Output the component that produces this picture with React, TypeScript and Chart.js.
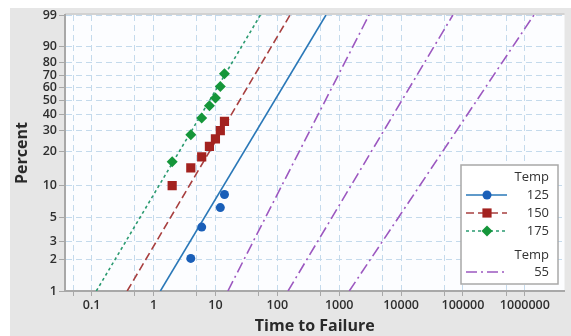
import React, { useEffect, useRef } from 'react';
import { Chart, registerables } from 'chart.js';
Chart.register(...registerables);

// Percent tick labels (Weibull probability scale)
const percentTicks = [1, 2, 3, 5, 10, 20, 30, 40, 50, 60, 70, 80, 90, 99];
// X grid lines and labels (log scale)
const xGridValues = [0.05, 0.1, 0.5, 1, 5, 10, 50, 100, 500, 1000, 5000, 10000, 50000, 100000, 500000, 1000000];
const xTickLabels = ['', '0.1', '', '1', '', '10', '', '100', '', '1000', '', '10000', '', '100000', '', '1000000'];

// Observed failures
const times175 = [2, 4, 6, 8, 10, 12, 14];
const pct175 = [16.2, 27.6, 37.4, 45.9, 51.7, 61.0, 71.3];
const times150 = [2, 4, 6, 8, 10, 12, 14];
const pct150 = [9.9, 14.3, 17.9, 22.1, 25.5, 29.8, 35.2];
const times125 = [4, 6, 12, 14];
const pct125 = [2.05, 4.07, 6.2, 8.2];

// Fitted lines (time at 1% and 99%)
const fitPct = [1, 99];
const fit125 = [1.29, 611];
const fit150 = [0.375, 160.7];
const fit175 = [0.119, 53.3];
const fit55Lower = [15.9, 3034];
const fit55 = [149, 68700];
const fit55Upper = [1455, 1400000];

const wb = (p: number) => Math.log(-Math.log(1 - p / 100));
const pts = (t: number[], p: number[]) => t.map((x, i) => ({ x, y: wb(p[i]) }));

const BLUE_LINE = '#2a78b8';
const BLUE_PT = '#1a5fb8';
const RED_LINE = '#a84040';
const RED_PT = '#a3221f';
const GREEN_LINE = '#2a9a70';
const GREEN_PT = '#15963a';
const PURPLE = '#9c58c0';
const FONT = '"Open Sans", "DejaVu Sans", sans-serif';
const DASH55 = [11, 4, 2, 4];

const bgPlugin = {
  id: 'bgPlugin',
  beforeDraw(chart: any) {
    const { ctx, chartArea: a, width, height } = chart;
    ctx.save();
    ctx.fillStyle = '#ffffff';
    ctx.fillRect(0, 0, width, height);
    ctx.fillStyle = '#e6e6e6';
    ctx.fillRect(10, 8, width - 10, height - 8);
    ctx.fillStyle = '#fcfdff';
    ctx.fillRect(a.left, a.top, a.right - a.left, a.bottom - a.top);
    ctx.fillStyle = '#d2d2d2';
    ctx.fillRect(a.left, a.top - 2, a.right - a.left, 2);
    ctx.restore();
  },
};

const legendPlugin = {
  id: 'legendPlugin',
  afterDraw(chart: any) {
    const ctx = chart.ctx;
    ctx.save();
    const bx = 461, by = 165, bw = 97, bh = 119;
    ctx.fillStyle = '#ffffff';
    ctx.fillRect(bx, by, bw, bh);
    ctx.strokeStyle = '#a8a8a8';
    ctx.lineWidth = 1.5;
    ctx.strokeRect(bx, by, bw, bh);
    ctx.fillStyle = '#333333';
    ctx.font = `13px ${FONT}`;
    ctx.textAlign = 'right';
    ctx.textBaseline = 'middle';
    const tx = 549;
    ctx.fillText('Temp', tx, 177);
    ctx.fillText('Temp', tx, 255);
    const rows = [
      { y: 195, label: '125', color: BLUE_LINE, pt: BLUE_PT, dash: [], style: 'circle', r: 4.5 },
      { y: 213, label: '150', color: RED_LINE, pt: RED_PT, dash: [8, 4], style: 'rect', r: 6.5 },
      { y: 231, label: '175', color: GREEN_LINE, pt: GREEN_PT, dash: [3, 3], style: 'rectRot', r: 5.5 },
      { y: 272, label: '55', color: PURPLE, pt: null, dash: DASH55, style: null, r: 0 },
    ];
    rows.forEach((row) => {
      ctx.save();
      ctx.strokeStyle = row.color;
      ctx.lineWidth = 1.6;
      ctx.setLineDash(row.dash);
      ctx.beginPath();
      ctx.moveTo(466, row.y);
      ctx.lineTo(507, row.y);
      ctx.stroke();
      ctx.restore();
      if (row.pt) {
        ctx.save();
        ctx.fillStyle = row.pt;
        ctx.beginPath();
        const cx = 487, cy = row.y, r = row.r;
        if (row.style === 'circle') {
          ctx.arc(cx, cy, r, 0, Math.PI * 2);
        } else if (row.style === 'rect') {
          const s = r * Math.SQRT1_2;
          ctx.rect(cx - s, cy - s, 2 * s, 2 * s);
        } else {
          ctx.moveTo(cx, cy - r);
          ctx.lineTo(cx + r, cy);
          ctx.lineTo(cx, cy + r);
          ctx.lineTo(cx - r, cy);
          ctx.closePath();
        }
        ctx.fill();
        ctx.restore();
      }
      ctx.fillStyle = '#333333';
      ctx.fillText(row.label, tx, row.y);
    });
    ctx.restore();
  },
};

export default function App() {
  const ref = useRef<HTMLCanvasElement | null>(null);
  useEffect(() => {
    if (!ref.current) return;
    const lineDs = (label: string, times: number[], color: string, dash: number[]) => ({
      label,
      data: pts(times, fitPct),
      showLine: true,
      borderColor: color,
      backgroundColor: color,
      borderWidth: 1.6,
      borderDash: dash,
      pointRadius: 0,
      pointHoverRadius: 0,
      fill: false,
    });
    const ptDs = (label: string, t: number[], p: number[], color: string, style: string, r: number) => ({
      label,
      data: pts(t, p),
      showLine: false,
      pointStyle: style,
      pointRadius: r,
      pointBackgroundColor: color,
      pointBorderColor: color,
      pointBorderWidth: 0,
    });
    const chart = new Chart(ref.current, {
      type: 'scatter',
      data: {
        datasets: [
          ptDs('175 pts', times175, pct175, GREEN_PT, 'rectRot', 5.5),
          ptDs('150 pts', times150, pct150, RED_PT, 'rect', 6.5),
          ptDs('125 pts', times125, pct125, BLUE_PT, 'circle', 4.5),
          lineDs('125', fit125, BLUE_LINE, []),
          lineDs('150', fit150, RED_LINE, [8, 4]),
          lineDs('175', fit175, GREEN_LINE, [3, 3]),
          lineDs('55 lower', fit55Lower, PURPLE, DASH55),
          lineDs('55', fit55, PURPLE, DASH55),
          lineDs('55 upper', fit55Upper, PURPLE, DASH55),
        ] as any,
      },
      options: {
        animation: false,
        responsive: false,
        devicePixelRatio: 1,
        layout: { padding: { top: 15, right: 0, left: 0, bottom: 0 } },
        plugins: { legend: { display: false }, tooltip: { enabled: false } },
        scales: {
          x: {
            type: 'logarithmic',
            min: 0.0371,
            max: 4370000,
            afterBuildTicks: (scale: any) => {
              scale.ticks = xGridValues.map((v) => ({ value: v }));
            },
            afterFit: (scale: any) => {
              scale.height = 45;
            },
            ticks: {
              autoSkip: false,
              maxRotation: 0,
              minRotation: 0,
              padding: 2,
              color: '#2e2e2e',
              font: { family: FONT, size: 12.5, weight: '600' },
              callback: (_v: any, i: number) => xTickLabels[i],
            },
            grid: {
              color: '#c4daec',
              lineWidth: 1,
              tickLength: 5,
              tickColor: '#a8a8a8',
            },
            border: { color: '#a8a8a8', width: 2, dash: [6, 4] },
            title: {
              display: true,
              text: 'Time to Failure',
              color: '#2a2a2a',
              font: { family: FONT, size: 16, weight: 'bold' },
              padding: { top: 0, bottom: 0 },
            },
          },
          y: {
            type: 'linear',
            min: wb(1),
            max: wb(99),
            afterBuildTicks: (scale: any) => {
              scale.ticks = percentTicks.map((p) => ({ value: wb(p) }));
            },
            afterFit: (scale: any) => {
              scale.width = 65;
            },
            ticks: {
              autoSkip: false,
              padding: 2,
              color: '#2e2e2e',
              font: { family: FONT, size: 12.5, weight: '600' },
              callback: (_v: any, i: number) => String(percentTicks[i]),
            },
            grid: {
              color: '#c4daec',
              lineWidth: 1,
              tickLength: 6,
              tickColor: '#a8a8a8',
            },
            border: { color: '#a8a8a8', width: 2, dash: [6, 4] },
            title: {
              display: true,
              text: 'Percent',
              color: '#2a2a2a',
              font: { family: FONT, size: 16, weight: 'bold' },
              padding: { top: 13, bottom: 0 },
            },
          },
        },
      } as any,
      plugins: [bgPlugin, legendPlugin],
    });
    return () => chart.destroy();
  }, []);
  return (
    <div style={{ position: 'fixed', left: 0, top: 0, width: 571, height: 336 }}>
      <canvas ref={ref} width={571} height={336} />
    </div>
  );
}
